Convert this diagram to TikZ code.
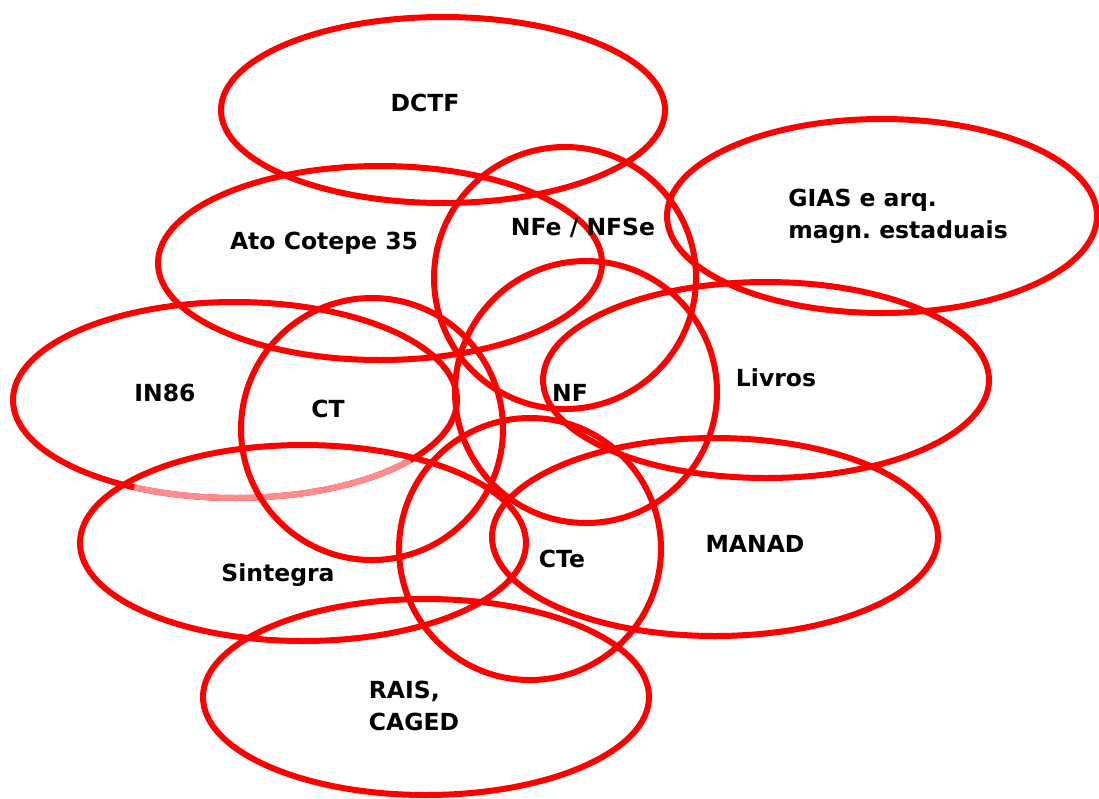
\documentclass[tikz,border=0pt]{standalone}
\usepackage{fontspec}
\setmainfont{DejaVu Sans}
\frenchspacing
\tikzset{
  ring/.style={draw=red, line width=6pt},
  faded/.style={draw=red!45, line width=6pt},
  tag/.style={font=\bfseries\fontsize{23.5}{32}\selectfont, inner sep=0pt, align=left}
}
\begin{document}
\begin{tikzpicture}[x=1pt,y=-1pt]
\useasboundingbox (0,0) rectangle (1099,798);

% IN86 first, its lower arc is faded
\draw[ring] (235,400) ellipse [x radius=222, y radius=98];
\draw[faded, domain=38:117, samples=50] plot ({235+222*cos(\x)},{400+98*sin(\x)});

\foreach \cx/\cy/\rx/\ry in {443/110/222/93, 380/263/222/97, 882/216/215/97,
  766/380/223/98, 303/543/223/98, 715/537/223/99, 426/697/223/98}
\draw[ring] (\cx,\cy) ellipse [x radius=\rx, y radius=\ry];

\foreach \cx/\cy in {565/278, 372/429, 586/392, 530/549}
\draw[ring] (\cx,\cy) circle [radius=131];

\foreach \n/\x/\y/\txt in {dctf/425/103/DCTF, ato/324/243/Ato Cotepe 35,
  nfe/583/228/{NFe / NFSe}, in86/165/393/IN86, ct/328/409/CT, nf/570/393/NF,
  livros/776/378/Livros, sintegra/278/575/Sintegra, cte/562/559/CTe,
  manad/755/544/MANAD}
\node[tag] (\n) at (\x,\y) {\txt};

\node[tag] (gias) at (898,216) {GIAS e arq.\\magn. estaduais};
\node[tag] (rais) at (414,706) {RAIS,\\CAGED};

\end{tikzpicture}
\end{document}
